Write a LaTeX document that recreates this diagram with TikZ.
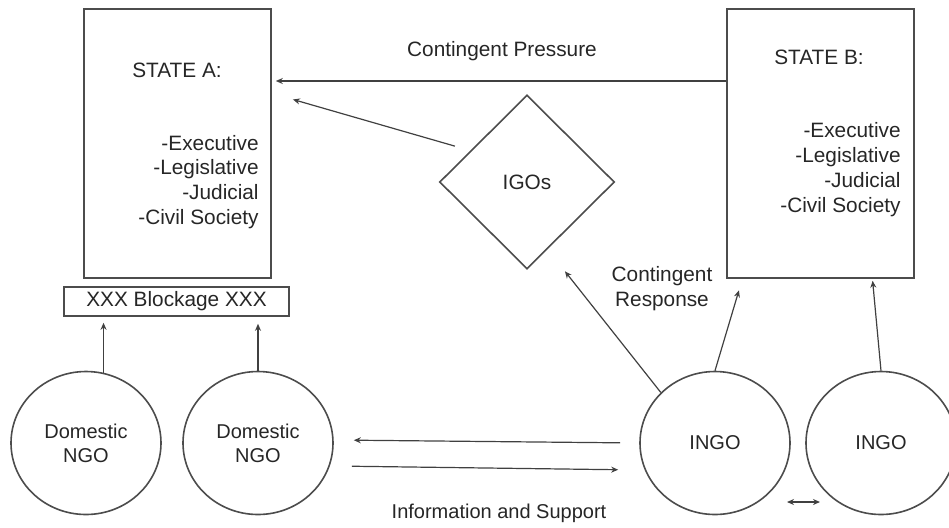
\documentclass[tikz,border=0pt]{standalone}
\usepackage{fontspec}
\setmainfont{Liberation Sans}
\usetikzlibrary{arrows.meta,shapes.geometric}

\begin{document}
\begin{tikzpicture}[x=0.5pt, y=-0.5pt, >={Stealth[length=3.5pt,width=3pt]},
		font=\fontsize{10.4}{12.4}\selectfont, text=black!85,
		state/.style={draw=black!70, line width=0.8pt, minimum width=93.5pt, minimum height=134.5pt, inner sep=0pt},
		org/.style={ellipse, draw=black!70, line width=0.8pt, minimum width=75pt, minimum height=71.5pt, inner sep=0pt, align=center, font=\fontsize{10}{12}\selectfont},
		link/.style={->, draw=black!75, line width=0.6pt}]
		\useasboundingbox (0,0) rectangle (949,527);
		\node[state] (stateA) at (177.5,143.5) {};
		\node (titleA) at (177,70) {STATE A:};
		\node[align=right, anchor=east, inner sep=0pt] (listA) at (259,182) {-Executive\\-Legislative\\-Judicial\\-Civil Society};
		\node[state] (stateB) at (820.5,143.5) {};
		\node (titleB) at (819,57) {STATE B:};
		\node[align=right, anchor=east, inner sep=0pt] (listB) at (901,169.5) {-Executive\\-Legislative\\-Judicial\\-Civil Society};
		\node[draw=black!70, line width=0.8pt, minimum width=112.5pt, minimum height=14.5pt, inner sep=0pt] (block) at (176.5,301.5) {XXX Blockage XXX};
		\node[diamond, draw=black!70, line width=0.8pt, minimum width=87.5pt, minimum height=87pt, inner sep=0pt] (igo) at (527,182) {IGOs};
		\node[org] (dngoA) at (86,443) {Domestic\\NGO};
		\node[org] (dngoB) at (258,443) {Domestic\\NGO};
		\node[org] (ingoA) at (715,443) {INGO};
		\node[org] (ingoB) at (881,443) {INGO};
		\node (press) at (502,51) {Contingent Pressure};
		\node[align=center] (resp) at (662,288.5) {Contingent\\Response};
		\node[font=\fontsize{10}{12}\selectfont] (info) at (499,513) {Information and Support};
		\draw[link, shorten >=2pt] ([yshift=31.25pt]stateB.west) -- ([yshift=31.25pt]stateA.east);
		\draw[link, shorten <=8pt, shorten >=11pt] (igo.151) -- (stateA.28);
		\draw[link, shorten >=14pt] (ingoA.137) -- (igo.287);
		\draw[link, shorten >=6pt] (ingoA.north) -- (stateB.240);
		\draw[link, shorten >=1pt] (ingoB.north) -- (stateB.291);
		\draw[link, shorten >=3pt] (dngoA.76) -- (dngoA.76 |- block.south);
		\draw[link, shorten >=3.5pt] (dngoB.north) -- (dngoB.north |- block.south);
		\draw[link, shorten <=9.5pt, shorten >=10pt] (ingoA.west) -- ([yshift=1.5pt]dngoB.east);
		\draw[link, shorten <=9pt, shorten >=10.5pt] ([yshift=-11.5pt]dngoB.east) -- ([yshift=-13.5pt]ingoA.west);
		\coordinate (swapL) at (787,502);
		\coordinate (swapR) at (820,502);
		\draw[link, <->] (swapL) -- (swapR);
	\end{tikzpicture}
\end{document}
